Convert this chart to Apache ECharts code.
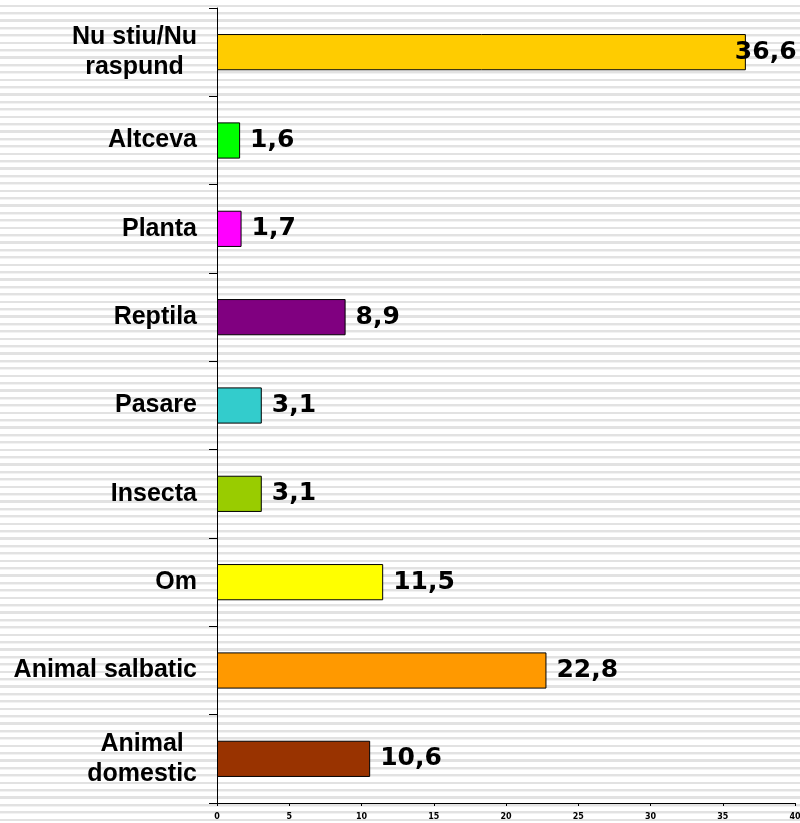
<!DOCTYPE html>
<html>
<head>
<meta charset="utf-8">
<script src="https://cdn.jsdelivr.net/npm/echarts@6/dist/echarts.min.js"></script>
<style>
  html, body { margin: 0; padding: 0; overflow: hidden; }
  #chart {
    width: 800px; height: 823px;
    background: repeating-linear-gradient(to bottom, #ffffff 0px, #ffffff 4.6px, #e2e2e2 4.6px, #e2e2e2 6.8px, #f2f2f2 6.8px, #f2f2f2 7.4px);
  }
</style>
</head>
<body>
<div id="chart"></div>
<script>
// Data (bottom to top, as drawn on the category axis)
var categories = ['Animal\ndomestic', 'Animal salbatic', 'Om', 'Insecta', 'Pasare', 'Reptila', 'Planta', 'Altceva', 'Nu stiu/Nu\nraspund'];
var values = [10.6, 22.8, 11.5, 3.1, 3.1, 8.9, 1.7, 1.6, 36.6];
var colors = ['#993300', '#FF9900', '#FFFF00', '#99CC00', '#33CCCC', '#800080', '#FF00FF', '#00FF00', '#FFCC00'];
var xTicks = [0, 5, 10, 15, 20, 25, 30, 35, 40];

var chart = echarts.init(document.getElementById('chart'));

var seriesData = values.map(function (v, i) {
  var item = { value: v, itemStyle: { color: colors[i] } };
  if (v > 33) { item.label = { offset: [-21, 0] }; }
  return item;
});

chart.setOption({
  backgroundColor: 'transparent',
  animation: false,
  grid: { left: 217, right: 5, top: 8, bottom: 20, containLabel: false, outerBoundsMode: 'none' },
  xAxis: {
    type: 'value',
    min: xTicks[0],
    max: xTicks[xTicks.length - 1],
    interval: 5,
    splitLine: { show: false },
    axisLine: { show: true, lineStyle: { color: '#000', width: 1 } },
    axisTick: { show: true, length: 3, lineStyle: { color: '#000' } },
    axisLabel: {
      margin: 10,
      fontSize: 8,
      fontWeight: 'bold',
      fontFamily: 'DejaVu Sans',
      color: '#000',
      showMaxLabel: true
    }
  },
  yAxis: {
    type: 'category',
    data: categories,
    axisLine: { show: true, lineStyle: { color: '#000', width: 1 } },
    axisTick: { show: true, length: 8, lineStyle: { color: '#000' } },
    axisLabel: {
      margin: 20,
      formatter: function (val) {
        return val.split('\n').map(function (s) { return '{a|' + s + '}'; }).join('\n');
      },
      rich: {
        a: {
          align: 'center',
          fontSize: 25,
          fontWeight: 'bold',
          fontFamily: 'Liberation Sans',
          color: '#000',
          lineHeight: 30
        }
      }
    }
  },
  series: [{
    type: 'bar',
    data: seriesData,
    barWidth: '41%',
    itemStyle: { borderColor: '#000', borderWidth: 1 },
    label: {
      show: true,
      position: 'right',
      distance: 10,
      fontSize: 25,
      fontWeight: 'bold',
      fontFamily: 'DejaVu Sans',
      color: '#000',
      formatter: function (p) { return String(p.value).replace('.', ','); }
    }
  }]
});
</script>
</body>
</html>
